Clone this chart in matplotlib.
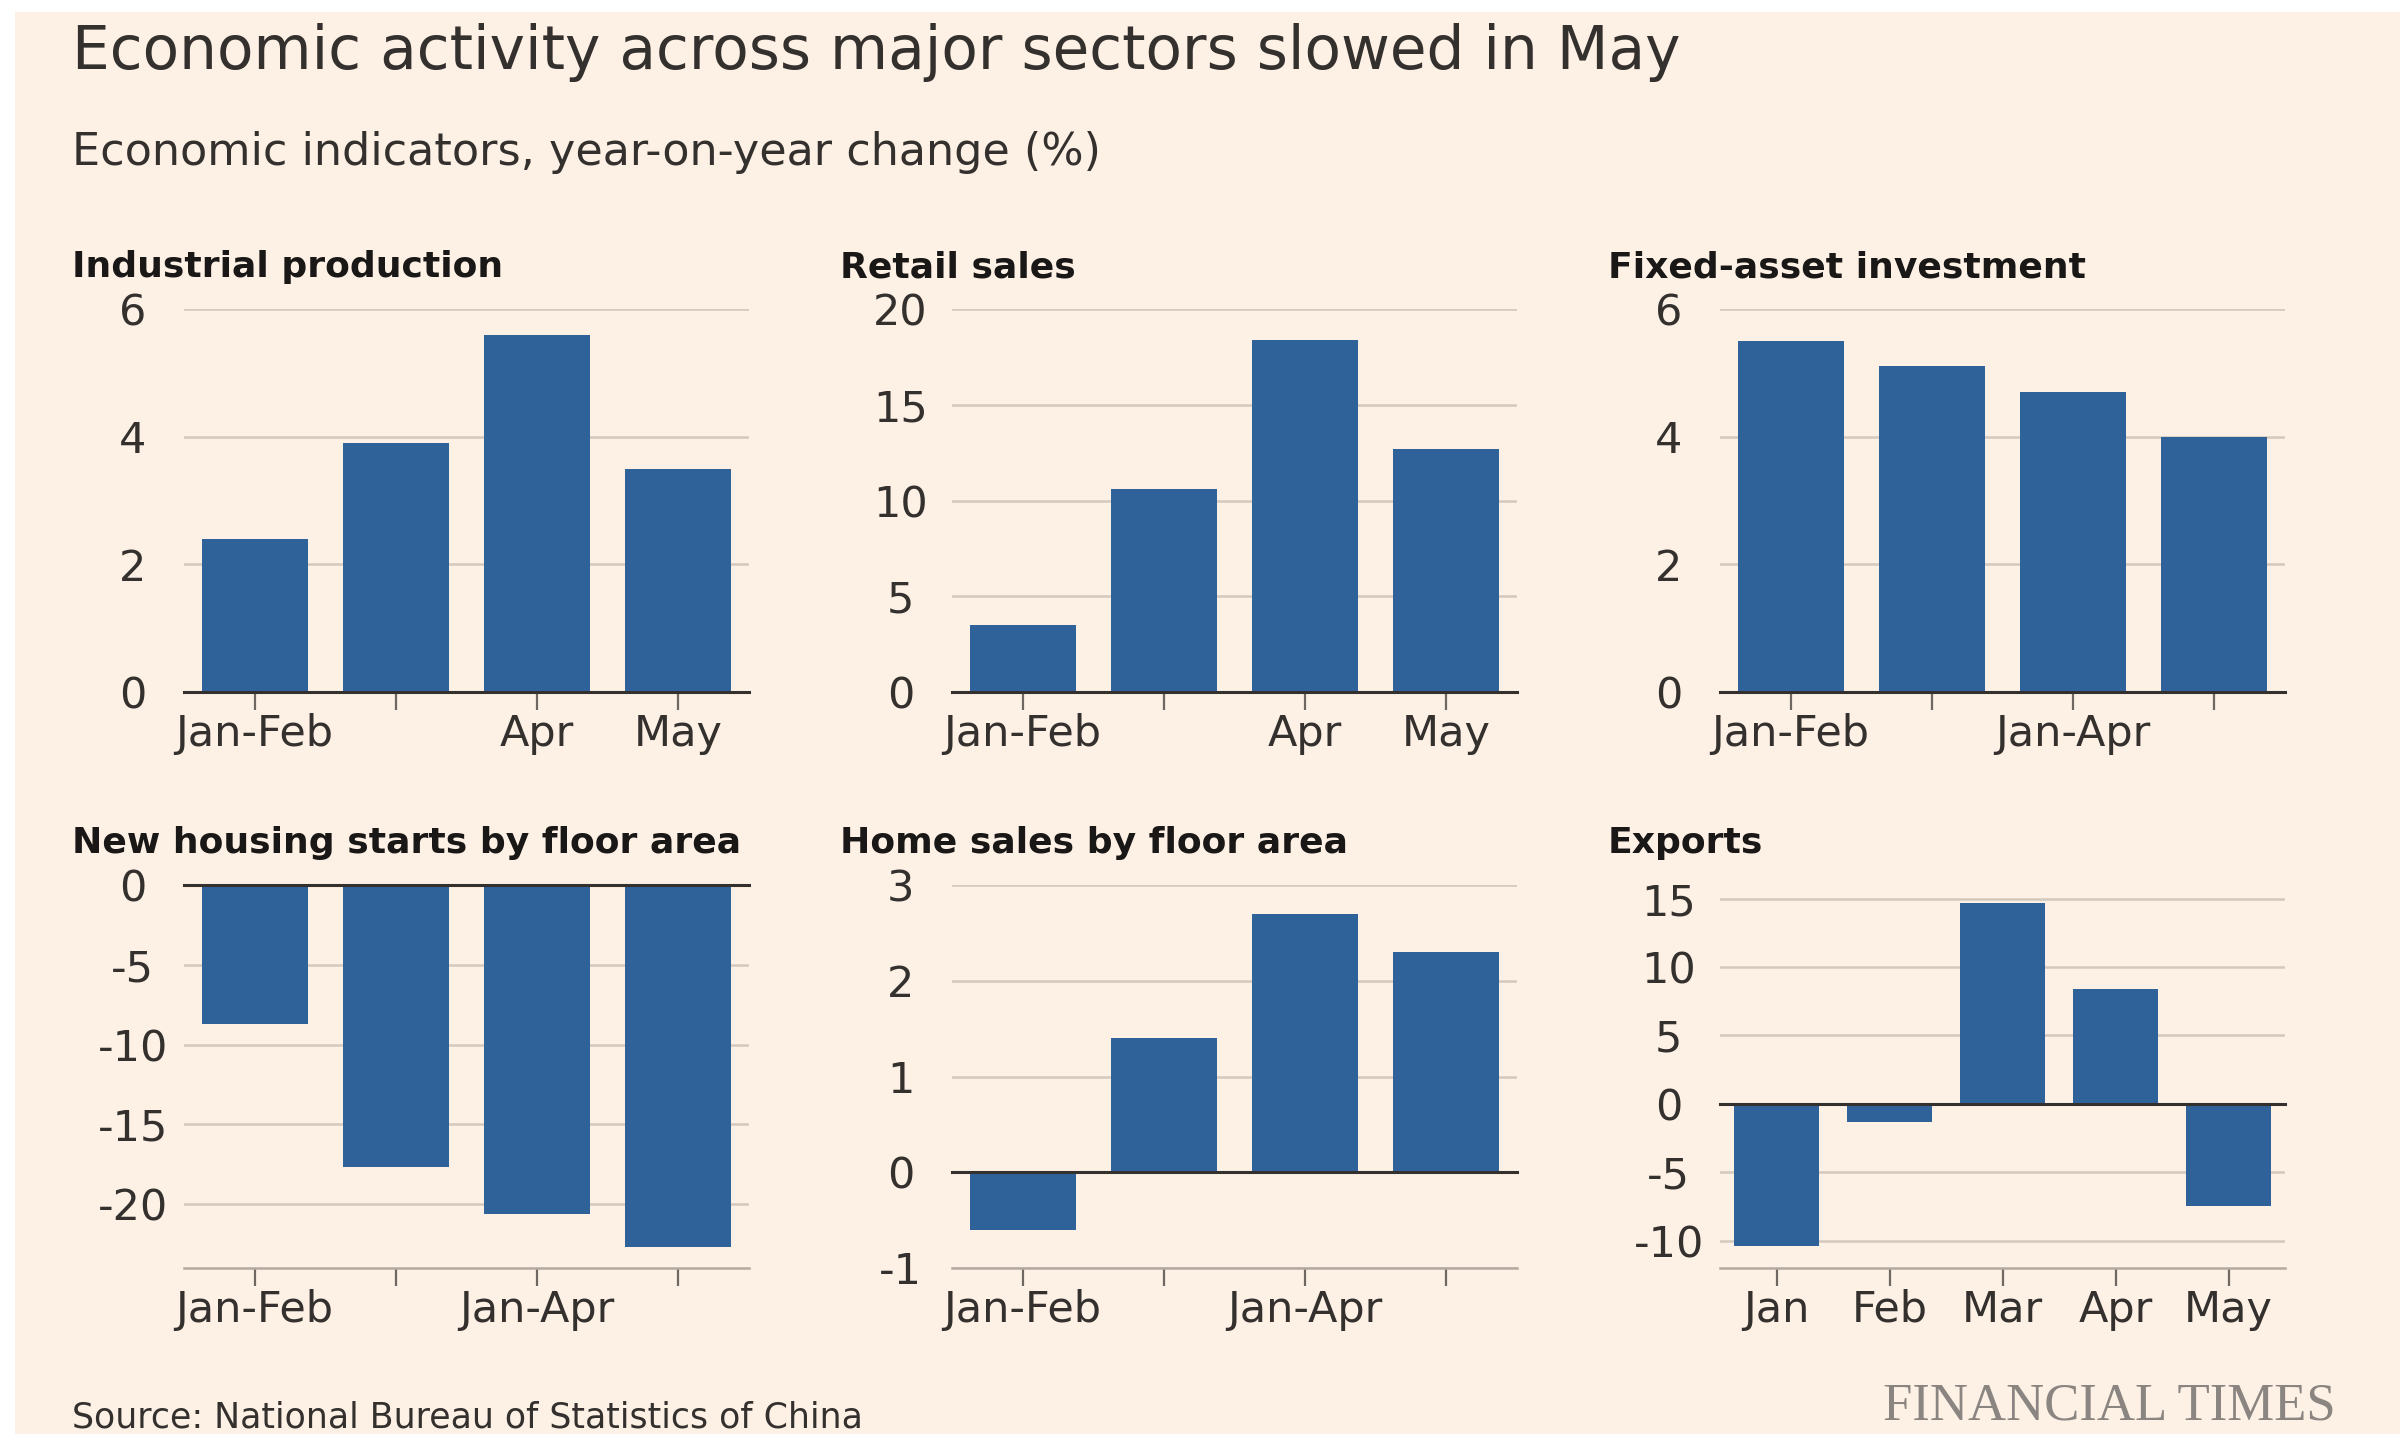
import numpy as np
import matplotlib
matplotlib.use("Agg")
from matplotlib import pyplot as plt
from matplotlib.patches import Rectangle

# data
ind_labels = ["Jan-Feb", "", "Apr", "May"]
ind_values = [2.4, 3.9, 5.6, 3.5]

retail_labels = ["Jan-Feb", "", "Apr", "May"]
retail_values = [3.5, 10.6, 18.4, 12.7]

fai_labels = ["Jan-Feb", "", "Jan-Apr", ""]
fai_values = [5.5, 5.1, 4.7, 4.0]

housing_labels = ["Jan-Feb", "", "Jan-Apr", ""]
housing_values = [-8.7, -17.7, -20.6, -22.7]

homesales_labels = ["Jan-Feb", "", "Jan-Apr", ""]
homesales_values = [-0.6, 1.4, 2.7, 2.3]

export_labels = ["Jan", "Feb", "Mar", "Apr", "May"]
export_values = [-10.4, -1.3, 14.7, 8.4, -7.5]

BG = "#fdf0e5"
BAR = "#30629a"
GRID = "#d3c9be"
DARK = "#33302e"
TEXT = "#33302e"
FONT = "DejaVu Sans"

W, H = 2400, 1434
fig = plt.figure(figsize=(W / 100, H / 100), dpi=100)
fig.patch.set_facecolor("white")
fig.patches.append(Rectangle((15 / W, 0), 1 - 15 / W, 1 - 12 / H,
                             transform=fig.transFigure, facecolor=BG,
                             edgecolor="none", zorder=-10))


def px(x, y):
    return x / W, 1 - y / H


def panel(left, top, title, labels, values, ylim, yticks, ticklabels):
    width, height = 565, 383
    ax = fig.add_axes([left / W, 1 - (top + height) / H, width / W, height / H])
    ax.set_facecolor("none")
    x = np.arange(len(values))
    ax.bar(x, values, width=0.75, color=BAR, zorder=2)
    ax.set_xlim(-0.5, len(values) - 0.5)
    ax.set_ylim(*ylim)
    ax.set_yticks(yticks)
    ax.set_yticklabels(ticklabels)
    for t in yticks:
        if t != 0:
            ax.axhline(t, color=GRID, lw=1.8, zorder=1)
    ax.axhline(0, color=DARK, lw=2.2, zorder=3, clip_on=False)
    for s in ["top", "right", "left"]:
        ax.spines[s].set_visible(False)
    ax.spines["bottom"].set_color("#b3aaa1")
    ax.spines["bottom"].set_linewidth(1.8)
    ax.set_xticks(x)
    ax.set_xticklabels(labels)
    ax.tick_params(axis="x", length=13, width=1.6, color="#6f6862",
                   pad=2, labelsize=31, labelcolor=TEXT)
    ax.tick_params(axis="y", length=0, pad=37, labelsize=31, labelcolor=TEXT)
    for lab in ax.get_yticklabels():
        lab.set_horizontalalignment("center")
    for lab in ax.get_xticklabels() + ax.get_yticklabels():
        lab.set_fontfamily(FONT)
    fig.text(*px(left - 112, top - 32), title, fontsize=26, fontweight="bold",
             family=FONT, color="#1a1817", va="baseline", ha="left")
    return ax


panel(184, 309, "Industrial production", ind_labels, ind_values,
      (0, 6), [0, 2, 4, 6], ["0", "2", "4", "6"])
panel(952, 309, "Retail sales", retail_labels, retail_values,
      (0, 20), [0, 5, 10, 15, 20], ["0", "5", "10", "15", "20"])
panel(1720, 309, "Fixed-asset investment", fai_labels, fai_values,
      (0, 6), [0, 2, 4, 6], ["0", "2", "4", "6"])
panel(184, 885, "New housing starts by floor area", housing_labels, housing_values,
      (-24, 0), [-20, -15, -10, -5, 0], ["-20", "-15", "-10", "-5", "0"])
panel(952, 885, "Home sales by floor area", homesales_labels, homesales_values,
      (-1, 3), [-1, 0, 1, 2, 3], ["-1", "0", "1", "2", "3"])
panel(1720, 885, "Exports", export_labels, export_values,
      (-12, 16), [-10, -5, 0, 5, 10, 15], ["-10", "-5", "0", "5", "10", "15"])

fig.text(*px(72, 69), "Economic activity across major sectors slowed in May",
         fontsize=43, family=FONT, color=TEXT, va="baseline")
fig.text(*px(72, 165), "Economic indicators, year-on-year change (%)",
         fontsize=32, family=FONT, color=TEXT, va="baseline")
fig.text(*px(72, 1428), "Source: National Bureau of Statistics of China",
         fontsize=25, family=FONT, color=TEXT, va="baseline")
fig.text(*px(1883, 1420), "FINANCIAL TIMES", fontsize=38, family="Liberation Serif",
         color="#8a8580", va="baseline")

fig.savefig("out.png", dpi=100, facecolor=fig.get_facecolor())
